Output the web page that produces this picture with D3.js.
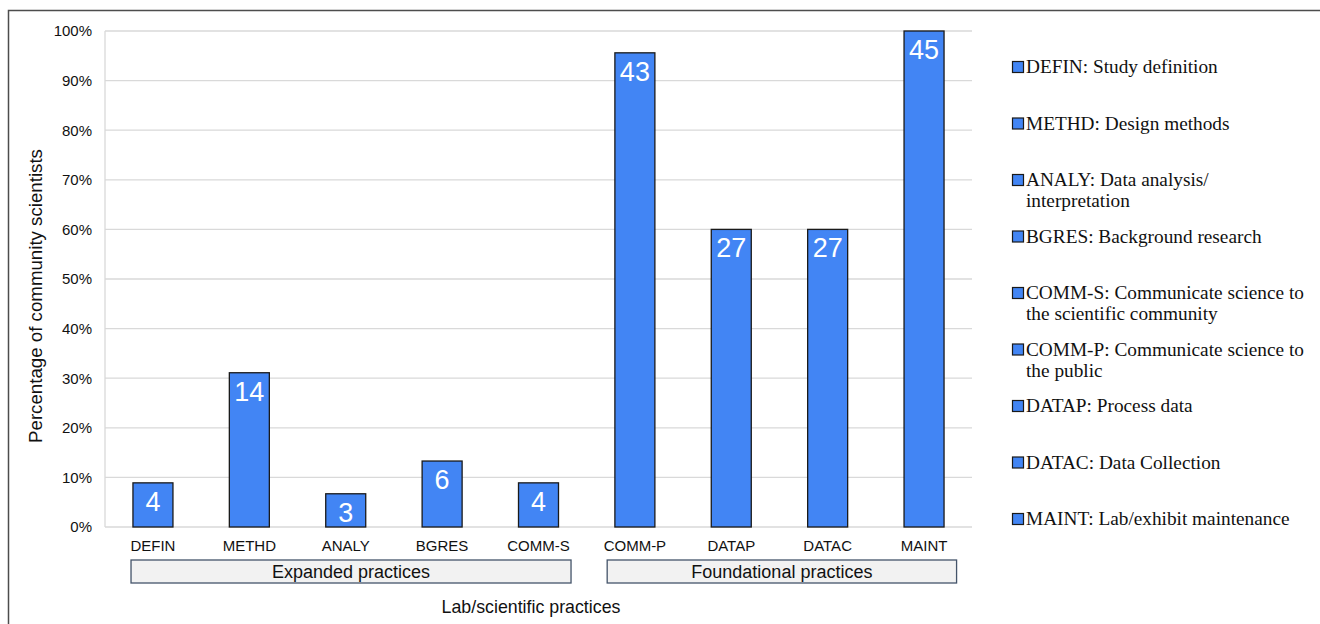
<!DOCTYPE html>
<html>
<head>
<meta charset="utf-8">
<script src="https://cdn.jsdelivr.net/npm/d3@7"></script>
<style>
  body { margin: 0; background: #fff; }
  svg { display: block; }
</style>
</head>
<body>
<div id="chart"></div>
<script>
// Practice codes, in plotting order
const categories = ["DEFIN", "METHD", "ANALY", "BGRES", "COMM-S", "COMM-P", "DATAP", "DATAC", "MAINT"];
// Percentage of community scientists (bar heights)
const percents = [8.9, 31.1, 6.7, 13.3, 8.9, 95.6, 60, 60, 100];
// Counts written on the bars
const counts = [4, 14, 3, 6, 4, 43, 27, 27, 45];
// Legend descriptions
const legendLabels = [
  ["DEFIN: Study definition"],
  ["METHD: Design methods"],
  ["ANALY: Data analysis/", "interpretation"],
  ["BGRES: Background research"],
  ["COMM-S: Communicate science to", "the scientific community"],
  ["COMM-P: Communicate science to", "the public"],
  ["DATAP: Process data"],
  ["DATAC: Data Collection"],
  ["MAINT: Lab/exhibit maintenance"]
];
// Category groups shown under the axis
const groups = [
  { name: "Expanded practices", first: "DEFIN", last: "COMM-S" },
  { name: "Foundational practices", first: "COMM-P", last: "MAINT" }
];
const yTicks = [0, 10, 20, 30, 40, 50, 60, 70, 80, 90, 100];

const W = 1320, H = 624;
const margin = { top: 31, right: 348, bottom: 97, left: 105 };
const width = W - margin.left - margin.right;
const height = H - margin.top - margin.bottom;
const barColor = "#4285f4";

const svg = d3.select("#chart").append("svg")
  .attr("width", W)
  .attr("height", H);

// Outer frame
svg.append("rect")
  .attr("x", 8.5).attr("y", 10.5)
  .attr("width", W + 10).attr("height", H + 10)
  .attr("fill", "none")
  .attr("stroke", "#4d4d4d")
  .attr("stroke-width", 1.5);

const g = svg.append("g")
  .attr("transform", `translate(${margin.left},${margin.top})`);

const x = d3.scaleBand()
  .domain(categories)
  .range([0, width])
  .paddingInner(0.585)
  .paddingOuter(0.29);

const y = d3.scaleLinear()
  .domain([0, 100])
  .range([height, 0]);

// Grid lines
g.append("g")
  .selectAll("line")
  .data(yTicks)
  .join("line")
  .attr("x1", 0).attr("x2", width)
  .attr("y1", d => y(d)).attr("y2", d => y(d))
  .attr("stroke", "#d9d9d9")
  .attr("stroke-width", 1.3);

g.append("line")
  .attr("x1", 0).attr("x2", 0)
  .attr("y1", 0).attr("y2", height)
  .attr("stroke", "#d9d9d9")
  .attr("stroke-width", 1.3);

// Y axis
const yAxis = d3.axisLeft(y)
  .tickValues(yTicks)
  .tickFormat(d => d + "%")
  .tickSize(0)
  .tickPadding(13);

g.append("g")
  .call(yAxis)
  .call(s => s.select(".domain").remove())
  .selectAll("text")
  .attr("font-family", "Liberation Sans, Arial, sans-serif")
  .attr("font-size", 15)
  .attr("fill", "#111");

// X axis
const xAxis = d3.axisBottom(x)
  .tickSize(0)
  .tickPadding(13);

g.append("g")
  .attr("transform", `translate(0,${height})`)
  .call(xAxis)
  .call(s => s.select(".domain").remove())
  .selectAll("text")
  .attr("font-family", "Liberation Sans, Arial, sans-serif")
  .attr("font-size", 15)
  .attr("fill", "#111");

// Bars
const data = categories.map((c, i) => ({ cat: c, pct: percents[i], n: counts[i] }));

g.selectAll("rect.bar")
  .data(data)
  .join("rect")
  .attr("class", "bar")
  .attr("x", d => x(d.cat))
  .attr("y", d => y(d.pct))
  .attr("width", x.bandwidth())
  .attr("height", d => height - y(d.pct))
  .attr("fill", barColor)
  .attr("stroke", "#1a1a1a")
  .attr("stroke-width", 1.3);

// Count labels inside the bars
g.selectAll("text.count")
  .data(data)
  .join("text")
  .attr("class", "count")
  .attr("x", d => x(d.cat) + x.bandwidth() / 2)
  .attr("y", d => y(d.pct) + 28)
  .attr("text-anchor", "middle")
  .attr("font-family", "Liberation Sans, Arial, sans-serif")
  .attr("font-size", 27)
  .attr("fill", "#fff")
  .text(d => d.n);

// Group boxes
const step = x.step();
const boxTop = height + 33, boxH = 23;
groups.forEach((gr, i) => {
  const x0 = x(gr.first) - (i === 0 ? 0.02 : 0.08) * step;
  const x1 = x(gr.last) + x.bandwidth() + 0.13 * step;
  g.append("rect")
    .attr("x", x0).attr("y", boxTop)
    .attr("width", x1 - x0).attr("height", boxH)
    .attr("fill", "#f2f2f2")
    .attr("stroke", "#44546a")
    .attr("stroke-width", 1.3);
  g.append("text")
    .attr("x", (x0 + x1) / 2)
    .attr("y", boxTop + boxH / 2 + 6)
    .attr("text-anchor", "middle")
    .attr("font-family", "Liberation Sans, Arial, sans-serif")
    .attr("font-size", 18)
    .attr("fill", "#111")
    .text(gr.name);
});

// Axis titles
svg.append("text")
  .attr("x", 531)
  .attr("y", 613)
  .attr("text-anchor", "middle")
  .attr("font-family", "Liberation Sans, Arial, sans-serif")
  .attr("font-size", 17.8)
  .attr("fill", "#111")
  .text("Lab/scientific practices");

svg.append("text")
  .attr("transform", "translate(42,296) rotate(-90)")
  .attr("text-anchor", "middle")
  .attr("font-family", "Liberation Sans, Arial, sans-serif")
  .attr("font-size", 18.7)
  .attr("fill", "#111")
  .text("Percentage of community scientists");

// Legend
const legend = svg.append("g")
  .attr("transform", "translate(1012,67)");

const item = legend.selectAll("g")
  .data(legendLabels)
  .join("g")
  .attr("transform", (d, i) => `translate(0,${i * 56.5})`);

item.append("rect")
  .attr("x", 0.5).attr("y", -5.5)
  .attr("width", 11).attr("height", 11)
  .attr("fill", barColor)
  .attr("stroke", "#1a1a1a")
  .attr("stroke-width", 1.2);

item.append("text")
  .attr("x", 14)
  .attr("y", 6)
  .attr("font-family", "Liberation Serif, Times New Roman, serif")
  .attr("font-size", 19.3)
  .attr("fill", "#111")
  .selectAll("tspan")
  .data(d => d)
  .join("tspan")
  .attr("x", 14)
  .attr("dy", (d, i) => i === 0 ? 0 : 21)
  .text(d => d);
</script>
</body>
</html>
